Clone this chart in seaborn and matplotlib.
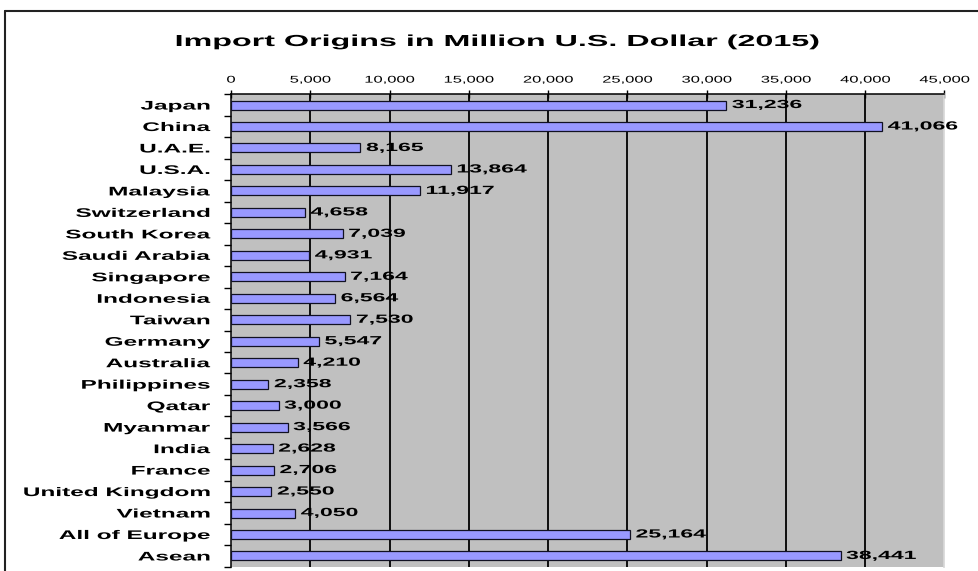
import numpy as np
import pandas as pd
import matplotlib
matplotlib.use("Agg")
import matplotlib.pyplot as plt
import seaborn as sns
from matplotlib.patheffects import AbstractPathEffect
from matplotlib.transforms import Affine2D
from matplotlib.ticker import FuncFormatter, FixedLocator
from matplotlib.lines import Line2D

categories = ["Japan", "China", "U.A.E.", "U.S.A.", "Malaysia", "Switzerland",
              "South Korea", "Saudi Arabia", "Singapore", "Indonesia", "Taiwan",
              "Germany", "Australia", "Philippines", "Qatar", "Myanmar", "India",
              "France", "United Kingdom", "Vietnam", "All of Europe", "Asean"]
values = [31236, 41066, 8165, 13864, 11917, 4658, 7039, 4931, 7164, 6564, 7530,
          5547, 4210, 2358, 3000, 3566, 2628, 2706, 2550, 4050, 25164, 38441]
x_ticks = [0, 5000, 10000, 15000, 20000, 25000, 30000, 35000, 40000, 45000]
title = "Import Origins in Million U.S. Dollar (2015)"


class HStretch(AbstractPathEffect):
    """Stretch text horizontally about an anchor (reference image is wide-stretched)."""
    def __init__(self, sx, anchor="center"):
        super().__init__()
        self.sx = sx
        self.anchor = anchor

    def draw_path(self, renderer, gc, tpath, affine, rgbFace=None):
        v = tpath.vertices
        if v is not None and len(v):
            if tpath.codes is not None:
                v = v[tpath.codes != 79]
            if len(v):
                xs = affine.transform(v)[:, 0]
                if self.anchor == "left":
                    x0 = affine.transform(np.array([[0.0, 0.0]]))[0, 0]
                elif self.anchor == "right":
                    x0 = xs.max()
                else:
                    x0 = 0.5 * (xs.min() + xs.max())
                affine = affine + Affine2D().translate(-x0, 0).scale(self.sx, 1).translate(x0, 0)
        renderer.draw_path(gc, tpath, affine, rgbFace)


sns.set_theme(style="white")
plt.rcParams["font.family"] = ["Liberation Sans", "DejaVu Sans"]

W, H = 979, 571
fig = plt.figure(figsize=(W / 100, H / 100), dpi=100)
fig.patch.set_facecolor("white")

left_px, right_px, top_px, bot_px = 231, 944.5, 94.3, 566.7
ax = fig.add_axes([left_px / W, 1 - bot_px / H, (right_px - left_px) / W, (bot_px - top_px) / H])
ax.set_facecolor("#C0C0C0")

df = pd.DataFrame({"country": categories, "value": values})
sns.barplot(data=df, x="value", y="country", orient="h", color="#9999FF",
            saturation=1, width=0.42, edgecolor="#111122", linewidth=0.9,
            ax=ax, zorder=3)

ax.set_xlim(0, 45000)
ax.set_ylim(len(categories) - 0.5, -0.5)
ax.set_xlabel("")
ax.set_ylabel("")

# vertical gridlines
for t in x_ticks[1:-1]:
    ax.axvline(t, color="black", lw=1.3, zorder=1)

# x axis on top
ax.xaxis.tick_top()
ax.xaxis.set_major_locator(FixedLocator(x_ticks))
ax.xaxis.set_major_formatter(FuncFormatter(lambda v, p: f"{int(v):,}"))
ax.tick_params(axis="x", which="major", direction="inout", length=6, width=1,
               color="black", pad=4, labelsize=7, labelcolor="black")
for lab in ax.get_xticklabels():
    lab.set_path_effects([HStretch(1.7, "center")])

# y axis: labels at centers, tick marks at boundaries
ax.yaxis.set_minor_locator(FixedLocator(np.arange(-0.5, len(categories), 1.0)))
ax.tick_params(axis="y", which="major", length=0, pad=15, labelsize=9,
               labelcolor="black")
ax.tick_params(axis="y", which="minor", length=5, width=1, color="black",
               direction="out", left=True)
for lab in ax.get_yticklabels():
    lab.set_fontweight("bold")
    lab.set_path_effects([HStretch(1.95, "right")])

for s in ["left", "top"]:
    ax.spines[s].set_visible(True)
    ax.spines[s].set_color("black")
    ax.spines[s].set_linewidth(1.1)
ax.spines["right"].set_visible(True)
ax.spines["right"].set_color("#d8d8d8")
ax.spines["bottom"].set_visible(False)

# value labels
labels = ax.bar_label(ax.containers[0], labels=[f"{v:,}" for v in values],
                      padding=4, fontsize=8.5, fontweight="bold", color="black")
for t in labels:
    t.set_path_effects([HStretch(1.95, "left")])

# title
ttl = fig.text(498.5 / W, 1 - 46 / H, title, ha="center", va="baseline",
               fontsize=11.5, fontweight="bold", color="black")
ttl.set_path_effects([HStretch(2.02, "center")])

# outer chart border (top and left visible)
fig.add_artist(Line2D([5 / W, 1.0], [1 - 10.5 / H, 1 - 10.5 / H],
                      transform=fig.transFigure, color="#222222", lw=1.5))
fig.add_artist(Line2D([5.5 / W, 5.5 / W], [1 - 10.5 / H, 0.0],
                      transform=fig.transFigure, color="#222222", lw=1.5))

fig.savefig("out.png", dpi=100)
